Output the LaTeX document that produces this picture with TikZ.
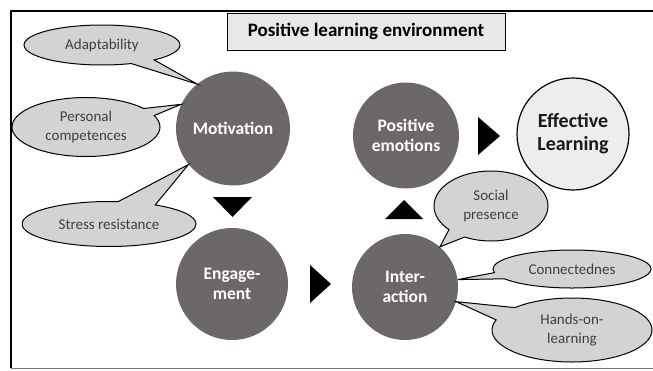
\documentclass[tikz,border=0pt]{standalone}
\usepackage{fontspec}
\setmainfont{Carlito}
\usetikzlibrary{shapes.callouts}
\definecolor{darkc}{RGB}{109,104,104}
\definecolor{calloutc}{RGB}{212,210,210}
\definecolor{effc}{RGB}{237,237,237}
\definecolor{titlec}{RGB}{232,232,232}
\definecolor{txtc}{RGB}{64,64,64}
\begin{document}
\begin{tikzpicture}[x=1pt,y=-1pt,
  bigcirc/.style={circle, fill=darkc, text=white, font=\bfseries\fontsize{17.5}{20}\selectfont, align=center, inner sep=0pt},
  bubble/.style={ellipse callout, draw=black, line width=1pt, fill=calloutc, text=txtc, font=\fontsize{15}{19}\selectfont, align=center, inner sep=0pt},
  arrowtri/.style={fill=black}]
\useasboundingbox (0,0) rectangle (653,370);
% frame
\draw[line width=2pt] (653,11) -- (11,11) -- (11,368);
\draw[black!55, line width=1.4pt] (11,368.5) -- (653,368.5);
% title
\node[draw, line width=1pt, fill=titlec, minimum width=278pt, minimum height=37pt, inner sep=0pt,
      font=\bfseries\fontsize{19}{22}\selectfont] (title) at (366,31.5) {Positive learning environment};
% main circles
\node[bigcirc, minimum size=114pt] (motivation) at (233,128.5) {Motivation};
\node[bigcirc, minimum size=112pt] (engagement) at (232,284) {Engage-\\ment};
\node[bigcirc, minimum size=106pt] (interaction) at (405,287) {Inter-\\action};
\node[bigcirc, minimum size=106pt] (emotions) at (406,135.5) {Positive\\emotions};
\node[circle, draw, line width=1.2pt, fill=effc, minimum size=112pt, inner sep=0pt, align=center,
      font=\bfseries\fontsize{20}{23}\selectfont, text=black!90] (effective) at (573,134) {Effective\\Learning};
% arrows (triangles)
\fill[arrowtri] (213,197) -- (252,197) -- (232.5,217) -- cycle;
\fill[arrowtri] (310,265) -- (331,284) -- (310,303) -- cycle;
\fill[arrowtri] (385,219) -- (423,219) -- (404,200) -- cycle;
\fill[arrowtri] (478,117) -- (500,136) -- (478,155) -- cycle;
% callouts
\node[bubble, minimum width=156pt, minimum height=40pt, callout absolute pointer={(motivation.129)}, callout pointer arc=20] (adapt) at (102,45) {Adaptability};
\node[bubble, minimum width=148pt, minimum height=59pt, callout absolute pointer={(motivation.155)}, callout pointer arc=16] (personal) at (86,127) {Personal\\competences};
\node[bubble, minimum width=174pt, minimum height=45pt, callout absolute pointer={(motivation.219)}, callout pointer arc=26] (stress) at (109,224) {Stress resistance};
\node[bubble, minimum width=114pt, minimum height=70pt, callout absolute pointer={(interaction.49)}, callout pointer arc=20] (social) at (491,206) {Social\\presence};
\node[bubble, minimum width=158pt, minimum height=38pt, callout absolute pointer={(interaction.8)}, callout pointer arc=20] (connect) at (572,269) {Connectednes};
\node[bubble, minimum width=160pt, minimum height=64pt, callout absolute pointer={(interaction.-16)}, callout pointer arc=26] (hands) at (572,330) {Hands-on-\\learning};
\end{tikzpicture}
\end{document}
